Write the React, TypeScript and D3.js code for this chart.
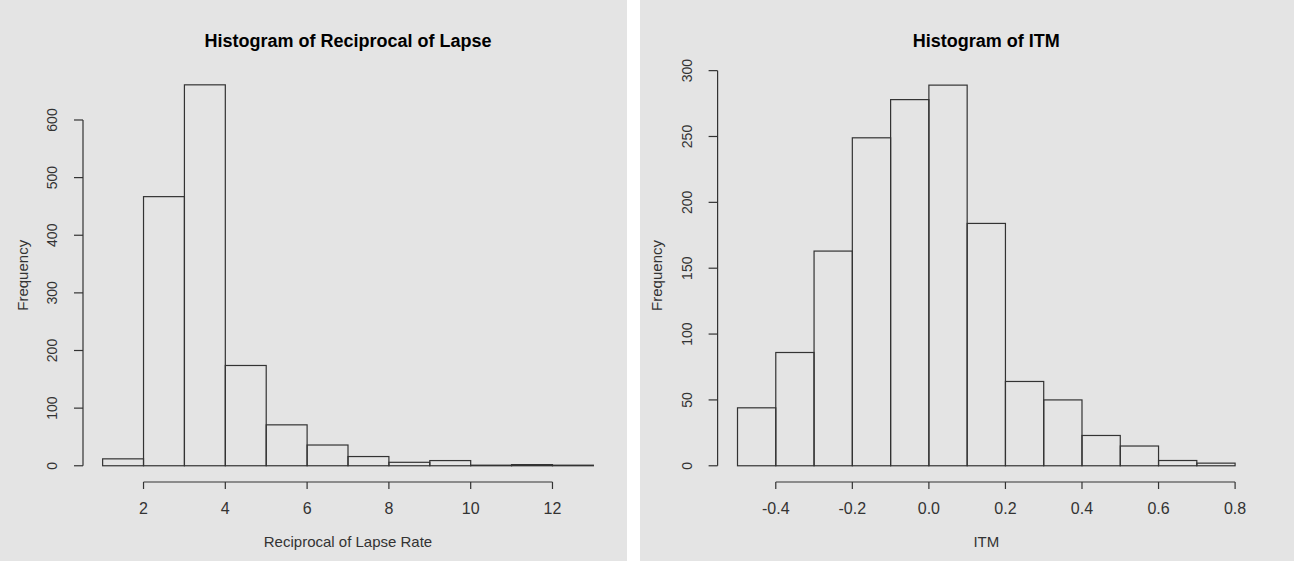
import React from 'react';
import * as d3 from 'd3';

// bin edges and counts
const lapseBreaks = [1, 2, 3, 4, 5, 6, 7, 8, 9, 10, 11, 12, 13];
const lapseCounts = [12, 467, 661, 174, 71, 36, 16, 6, 9, 1, 2, 1];

const itmBreaks = [-0.5, -0.4, -0.3, -0.2, -0.1, 0.0, 0.1, 0.2, 0.3, 0.4, 0.5, 0.6, 0.7, 0.8];
const itmCounts = [44, 86, 163, 249, 278, 289, 184, 64, 50, 23, 15, 4, 2];

const W = 1294;
const H = 561;
const FONT = '"Liberation Sans", Arial, sans-serif';
const INK = '#333';

type PanelProps = {
  bg: [number, number];
  plot: { left: number; right: number; top: number; bottom: number };
  breaks: number[];
  counts: number[];
  title: string;
  xLabel: string;
  fmt: (v: number) => string;
};

const Panel = ({ bg, plot, breaks, counts, title, xLabel, fmt }: PanelProps) => {
  const lo = breaks[0];
  const hi = breaks[breaks.length - 1];
  const padX = (hi - lo) * 0.04;
  const maxY = d3.max(counts) as number;
  const padY = maxY * 0.04;

  const x = d3.scaleLinear().domain([lo - padX, hi + padX]).range([plot.left, plot.right]);
  const y = d3.scaleLinear().domain([-padY, maxY + padY]).range([plot.bottom, plot.top]);

  const xTicks = d3.ticks(lo - padX, hi + padX, 6);
  const yTicks = d3.ticks(-padY, maxY + padY, 6).filter(v => v >= 0);

  const axisY = plot.bottom + 1;
  const cx = (plot.left + plot.right) / 2;

  return (
    <g>
      <rect x={bg[0]} y={0} width={bg[1] - bg[0]} height={H} fill="#e4e4e4" />
      <text x={cx} y={41} textAnchor="middle" dominantBaseline="central"
        fontFamily={FONT} fontWeight="bold" fontSize={18} fill="#000">{title}</text>

      {counts.map((c, i) => (
        <rect key={i}
          x={x(breaks[i])} y={y(c)}
          width={x(breaks[i + 1]) - x(breaks[i])}
          height={y(0) - y(c)}
          fill="none" stroke={INK} strokeWidth={1.2} />
      ))}

      {/* x axis */}
      <line x1={x(xTicks[0])} x2={x(xTicks[xTicks.length - 1])} y1={axisY} y2={axisY}
        stroke={INK} strokeWidth={1.2} />
      {xTicks.map(t => (
        <g key={t}>
          <line x1={x(t)} x2={x(t)} y1={axisY} y2={axisY + 7} stroke={INK} strokeWidth={1.2} />
          <text x={x(t)} y={508} textAnchor="middle" dominantBaseline="central"
            fontFamily={FONT} fontSize={16} fill={INK}>{fmt(t)}</text>
        </g>
      ))}
      <text x={cx} y={541} textAnchor="middle" dominantBaseline="central"
        fontFamily={FONT} fontSize={15} fill={INK}>{xLabel}</text>

      {/* y axis */}
      <line x1={plot.left} x2={plot.left} y1={y(yTicks[0])} y2={y(yTicks[yTicks.length - 1])}
        stroke={INK} strokeWidth={1.2} />
      {yTicks.map(t => (
        <g key={t}>
          <line x1={plot.left - 9} x2={plot.left} y1={y(t)} y2={y(t)} stroke={INK} strokeWidth={1.2} />
          <text transform={`translate(${plot.left - 31},${y(t)}) rotate(-90)`}
            textAnchor="middle" dominantBaseline="central"
            fontFamily={FONT} fontSize={14} fill={INK}>{t}</text>
        </g>
      ))}
      <text transform={`translate(${plot.left - 61},${(plot.top + plot.bottom) / 2}) rotate(-90)`}
        textAnchor="middle" dominantBaseline="central"
        fontFamily={FONT} fontSize={15} fill={INK}>Frequency</text>
    </g>
  );
};

export default function App() {
  return (
    <svg width={W} height={H} style={{ position: 'absolute', left: 0, top: 0, display: 'block' }}>
      <rect width={W} height={H} fill="#fff" />
      <Panel
        bg={[0, 627]}
        plot={{ left: 83, right: 613, top: 69.6, bottom: 481 }}
        breaks={lapseBreaks}
        counts={lapseCounts}
        title="Histogram of Reciprocal of Lapse"
        xLabel="Reciprocal of Lapse Rate"
        fmt={v => String(v)}
      />
      <Panel
        bg={[640, W]}
        plot={{ left: 717.6, right: 1255, top: 69.9, bottom: 481 }}
        breaks={itmBreaks}
        counts={itmCounts}
        title="Histogram of ITM"
        xLabel="ITM"
        fmt={v => v.toFixed(1)}
      />
    </svg>
  );
}
